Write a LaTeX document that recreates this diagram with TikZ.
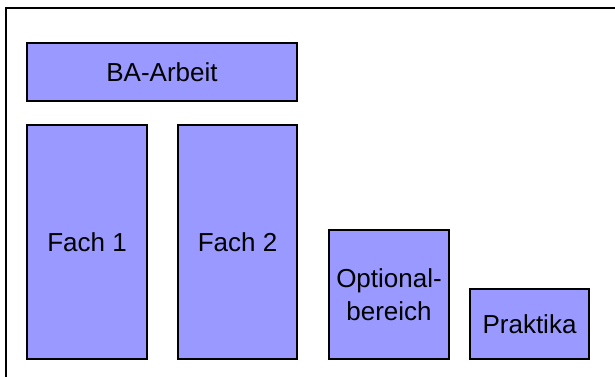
\documentclass[tikz,border=0pt]{standalone}
\usepackage{fontspec}
\setmainfont{Liberation Sans}
\definecolor{boxblue}{HTML}{9999FF}
\tikzset{
  modul/.style={draw=black, fill=boxblue, line width=1.5pt, inner sep=0pt,
    font=\fontsize{26}{33}\selectfont, align=center},
}
\begin{document}
\begin{tikzpicture}[x=1pt, y=-1pt]
    \useasboundingbox (0,0) rectangle (615,376);
    % Outer frame
    \draw[line width=2pt] (6,377) -- (6,8) -- (616,8);

    % Thesis box
    \node[modul, minimum width=270pt, minimum height=58pt] (ba) at (162,72) {BA-Arbeit};

    % Subject boxes
    \node[modul, minimum width=120pt, minimum height=234pt] (fach1) at (87,242) {Fach 1};
    \node[modul, minimum width=119pt, minimum height=234pt] (fach2) at (237.5,242) {Fach 2};

    % Optional area and internships
    \node[modul, minimum width=120pt, minimum height=129pt] (opt) at (389,294.5) {Optional-\\bereich};
    \node[modul, minimum width=119pt, minimum height=70pt] (prak) at (529.5,324) {Praktika};
\end{tikzpicture}
\end{document}
